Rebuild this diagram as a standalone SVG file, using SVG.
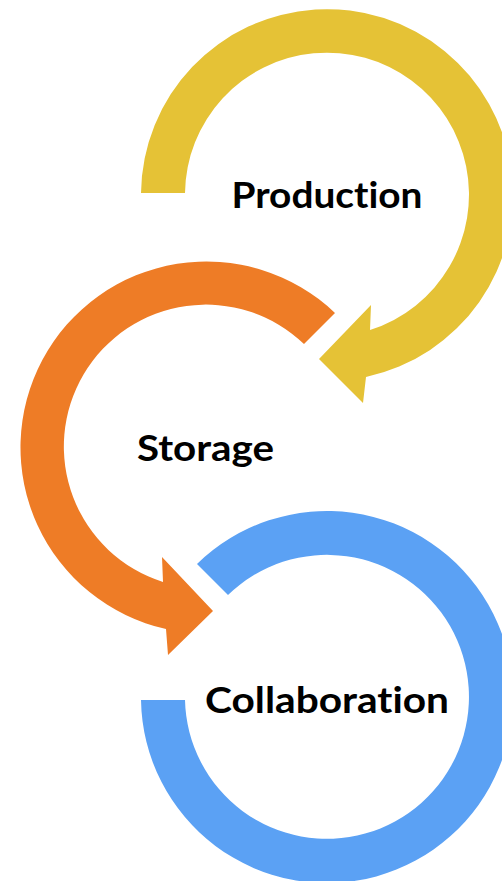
<svg xmlns="http://www.w3.org/2000/svg" width="502" height="881" viewBox="0 0 502 881">
<style>
.lbl{font-family:"Lato","Liberation Sans",sans-serif;font-weight:700;font-size:37px;fill:#000;text-anchor:middle;font-variant-ligatures:none;font-feature-settings:"liga" 0}
.yel{fill:#E5C236}
.org{fill:#EE7C26}
.blu{fill:#5BA1F4}
</style>
<rect width="502" height="881" fill="#fff"/>
<g id="connectors">
<path id="arrow-production" class="yel" d="M141,193 A186,186 0 1 1 366,377 L363,403 L319,359 L371,305 L370,330 A142,142 0 1 0 185,193 Z"/>
<path id="arrow-storage" class="org" d="M335,313 A186,186 0 1 0 166,629 L168,655 L213,611 L162,557 L163,582 A142,142 0 1 1 304,344 Z"/>
<path id="ring-collaboration" class="blu" d="M197,564 A186,186 0 1 1 141,700 L185,700 A142,142 0 1 0 228,595 Z"/>
</g>
<g id="production"><text class="lbl" x="327" y="208" textLength="191" lengthAdjust="spacingAndGlyphs">Production</text></g>
<g id="storage"><text class="lbl" x="205.5" y="461" textLength="137" lengthAdjust="spacingAndGlyphs">Storage</text></g>
<g id="collaboration"><text class="lbl" x="327" y="713" textLength="244" lengthAdjust="spacingAndGlyphs">Collaboration</text></g>
</svg>
